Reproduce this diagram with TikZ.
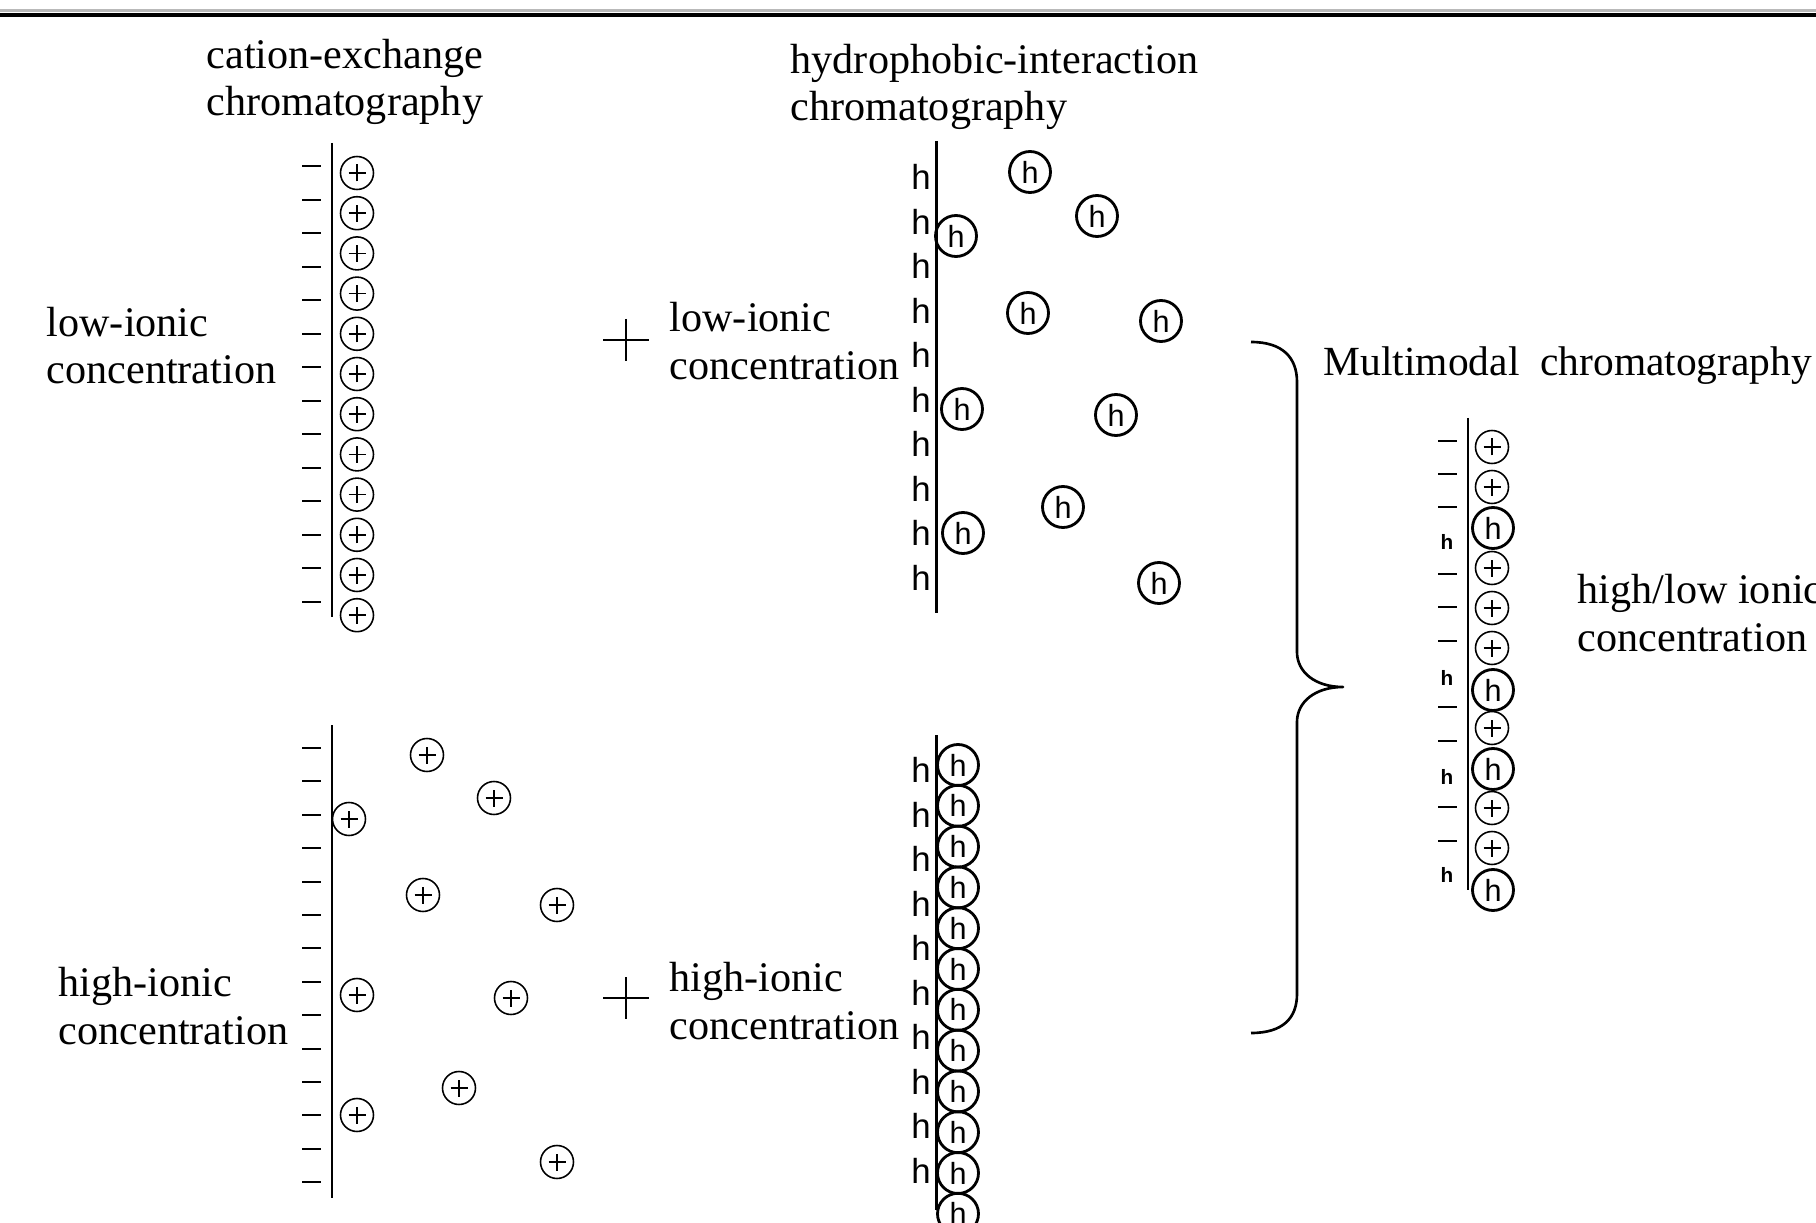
\documentclass[tikz,border=0pt]{standalone}
\usepackage{fontspec}
\setmainfont{Liberation Serif}
\setsansfont{Liberation Sans}
\begin{document}
\begin{tikzpicture}[x=0.1mm, y=-0.1mm, line join=round,
	lbl/.style={anchor=base west, align=left, inner sep=0pt, font=\fontsize{12}{13.4}\selectfont},
	pion/.style={circle, draw, line width=0.45pt, minimum size=3.3mm, inner sep=0pt,
		path picture={\draw[line width=0.45pt] ([xshift=-0.85mm]path picture bounding box.center) -- ([xshift=0.85mm]path picture bounding box.center)
			([yshift=-0.85mm]path picture bounding box.center) -- ([yshift=0.85mm]path picture bounding box.center);}},
	hion/.style={circle, draw, line width=0.8pt, minimum size=4.1mm, inner sep=0pt, font=\sffamily\fontsize{8.7}{9}\selectfont},
	hsite/.style={inner sep=0pt, font=\sffamily\fontsize{9.9}{10}\selectfont},
	hsmall/.style={inner sep=0pt, font=\sffamily\bfseries\fontsize{5.9}{6}\selectfont},
	neg/.style={line width=0.2mm},
	wall/.style={line width=0.85pt},
	bigplus/.style={line width=0.75pt}]
	\useasboundingbox (0,0) rectangle (1816,1223);
	\draw[gray!55, line width=0.3mm] (0,11) -- (1816,11);
	\draw[line width=0.45mm] (0,15) -- (1816,15);
	
	% titles and labels
	\node[lbl] (tcat) at (206,116) {cation-exchange\\chromatography};
	\node[lbl] (thyd) at (790,121) {hydrophobic-interaction\\chromatography};
	\node[lbl] (lowA) at (46,384) {low-ionic\\concentration};
	\node[lbl] (lowB) at (669,379) {low-ionic\\concentration};
	\node[lbl] (highA) at (58,1044) {high-ionic\\concentration};
	\node[lbl] (highB) at (669,1039) {high-ionic\\concentration};
	\node[lbl, font=\fontsize{11.8}{13.4}\selectfont] (tmm) at (1323,376) {Multimodal\ \ chromatography};
	\node[lbl] (hilo) at (1577,651) {high/low ionic\\concentration};
	
	\draw[bigplus] (603,340) -- (649,340) (626,319) -- (626,361);
	\draw[bigplus] (603,998) -- (649,998) (626,977) -- (626,1019);
	
	% cation exchange, low
	\draw[wall] (332,143) -- (332,617);
	\foreach \i in {0,...,13} \draw[neg] (302,{round(166+33.5*\i)}) -- ++(19,0);
	\foreach \i in {0,...,11} \node[pion] (a\i) at (357,{173+40.2*\i}) {};
	
	% cation exchange, high
	\draw[wall] (332,725) -- (332,1198);
	\foreach \i in {0,...,13} \draw[neg] (302,{round(748+33.4*\i)}) -- ++(19,0);
	\foreach \x/\y [count=\k] in {427/755,494/798,349/819,423/895,557/905,357/995,511/998,459/1088,357/1115,557/1162}
		\node[pion] (b\k) at (\x,\y) {};
	
	% hydrophobic, low
	\draw[wall] (936,141) -- (936,613);
	\foreach \i in {0,...,9} \node[hsite] (s\i) at (921,{177+44.5*\i}) {h};
	\foreach \x/\y [count=\k] in {1030/172,1097/216,956/236,1028/313,1161/321,962/409,1116/415,1063/507,963/533,1159/583}
		\node[hion] (c\k) at (\x,\y) {h};
	
	% hydrophobic, high
	\draw[wall] (936,735) -- (936,1210);
	\foreach \i in {0,...,9} \node[hsite] (t\i) at (921,{770+44.5*\i}) {h};
	\foreach \i in {0,...,11} \node[hion] (d\i) at (958,{765+40.8*\i}) {h};
	
	% brace
	\draw[line width=0.75pt] (1251,342) .. controls (1283,342) and (1297,358) .. (1297,382) -- (1297,652)
		.. controls (1297,672) and (1315,687) .. (1343,687) .. controls (1315,687) and (1297,702) .. (1297,722)
		-- (1297,994) .. controls (1297,1018) and (1283,1033) .. (1251,1033);
	
	% multimodal
	\draw[line width=0.5pt] (1468,418) -- (1468,890);
	\foreach \y in {441,474,507,574,607,641,707,741,807,841} \draw[neg] (1438,\y) -- ++(19,0);
	\foreach \y [count=\k] in {542,678,777,875} \node[hsmall] (m\k) at (1447,\y) {h};
	\foreach \y [count=\k] in {447,487,568,608,648,728,808,848} \node[pion] (e\k) at (1492,\y) {};
	\foreach \y [count=\k] in {528,690,769,890} \node[hion] (f\k) at (1493,\y) {h};
\end{tikzpicture}
\end{document}
